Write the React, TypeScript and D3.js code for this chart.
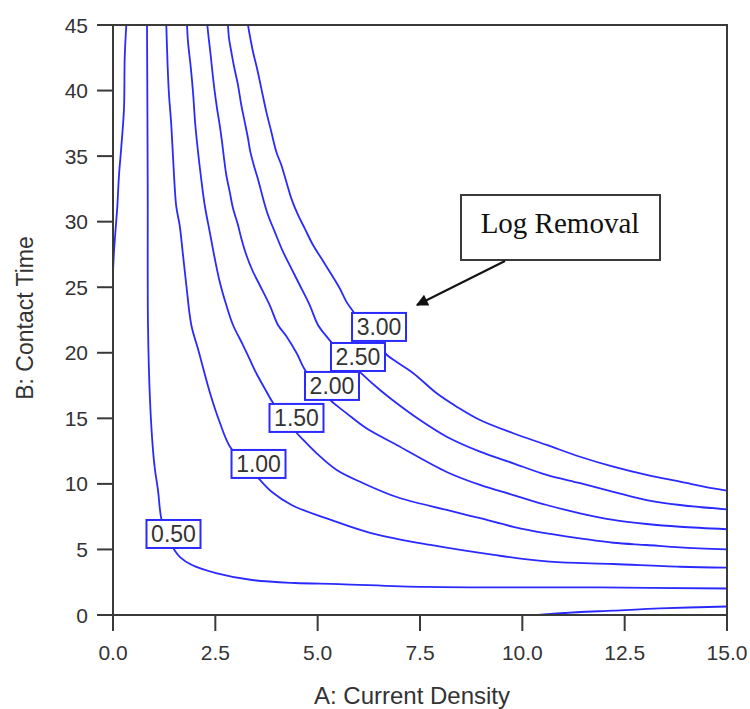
import React from "react";
import * as d3 from "d3";

// Axis ticks
const xTicks = [0, 2.5, 5, 7.5, 10, 12.5, 15];
const yTicks = [0, 5, 10, 15, 20, 25, 30, 35, 40, 45];

// Contour lines, points [A: Current Density, B: Contact Time]
const contourEdge: [number, number][] = [
  [0.325, 45], [0.286, 42.48], [0.269, 38.67], [0.203, 35.7], [0.147, 33.56],
  [0.105, 31.12], [0.066, 29.52], [0.024, 27.69], [0, 26.16],
];
const contour050: [number, number][] = [
  [0.831, 45], [0.848, 32.8], [0.855, 22.12], [0.904, 16.4], [0.977, 12.58],
  [1.026, 11.06], [1.099, 9.53], [1.173, 7.47], [1.295, 6.1], [1.502, 4.96],
  [1.637, 4.42], [1.93, 3.81], [2.516, 3.2], [3.396, 2.67], [4.446, 2.44],
  [5.521, 2.36], [7.647, 2.14], [11.897, 2.1], [15, 2.02],
];
const contour100: [number, number][] = [
  [1.302, 45], [1.361, 40.04], [1.424, 37.37], [1.49, 33.56], [1.546, 31.14],
  [1.629, 29.72], [1.71, 27.46], [1.791, 25.17], [1.913, 22.12], [2.084, 20.21],
  [2.37, 16.93], [2.614, 14.64], [2.858, 12.84], [3.225, 11.59], [3.591, 10.3],
  [3.884, 9.38], [4.363, 8.39], [5.326, 7.25], [6.303, 6.25], [7.757, 5.34],
  [9.308, 4.58], [10.664, 4.07], [12.222, 3.89], [13.852, 3.68], [15, 3.61],
];
const contour150: [number, number][] = [
  [1.808, 45], [1.832, 43.73], [1.898, 41.82], [1.954, 39.91], [2.011, 37.37],
  [2.077, 35.34], [2.143, 33.56], [2.24, 31.27], [2.362, 29.24], [2.485, 27.21],
  [2.607, 25.42], [2.768, 23.64], [2.932, 22.12], [3.176, 20.59], [3.347, 19.45],
  [3.511, 18.38], [3.755, 17.01], [3.916, 16.15], [4.202, 15.03], [4.463, 13.98],
  [4.649, 13.35], [4.976, 12.33], [5.465, 11.06], [6.115, 10.05], [6.931, 9.0],
  [8.152, 8.01], [8.966, 7.38], [9.779, 6.73], [10.595, 6.23], [11.409, 5.85],
  [12.222, 5.51], [13.038, 5.34], [13.852, 5.16], [15, 5.01],
];
const contour200: [number, number][] = [
  [2.304, 45], [2.338, 43.99], [2.377, 42.96], [2.419, 41.7], [2.485, 39.91],
  [2.541, 38.65], [2.607, 37.37], [2.663, 36.1], [2.712, 34.83], [2.768, 33.56],
  [2.851, 32.29], [2.932, 31.02], [3.054, 29.75], [3.134, 28.73], [3.257, 27.46],
  [3.42, 26.18], [3.584, 25.17], [3.828, 23.64], [4.031, 22.12], [4.244, 21.23],
  [4.488, 19.96], [4.691, 18.69], [5.008, 17.47], [5.301, 16.4], [5.709, 15.38],
  [6.181, 14.26], [6.931, 12.97], [8.152, 10.91], [8.966, 9.92], [9.779, 9.15],
  [10.595, 8.39], [11.409, 7.76], [12.222, 7.25], [13.038, 6.94], [13.852, 6.73],
  [15, 6.54],
];
const contour250: [number, number][] = [
  [2.809, 45], [2.834, 43.99], [2.89, 42.96], [2.949, 41.95], [3.054, 40.42],
  [3.134, 38.9], [3.217, 37.63], [3.298, 36.36], [3.354, 35.34], [3.462, 34.07],
  [3.559, 33.05], [3.665, 31.78], [3.787, 30.51], [3.95, 29.24], [4.153, 27.71],
  [4.356, 26.44], [4.561, 25.17], [4.805, 23.64], [5.008, 22.12], [5.221, 21.23],
  [5.343, 20.77], [5.668, 19.68], [6.034, 18.53], [6.523, 17.16], [6.931, 16.15],
  [7.5, 14.87], [8.152, 13.6], [8.966, 12.46], [9.779, 11.57], [10.595, 10.68],
  [11.409, 10.05], [12.222, 9.4], [13.038, 8.77], [13.852, 8.39], [15, 8.06],
];
const contour300: [number, number][] = [
  [3.298, 45], [3.34, 44.24], [3.42, 42.96], [3.518, 41.7], [3.623, 40.17],
  [3.745, 38.39], [3.867, 36.86], [3.989, 35.34], [4.112, 34.32], [4.234, 33.05],
  [4.356, 31.78], [4.52, 30.51], [4.683, 29.49], [4.886, 28.22], [5.089, 27.21],
  [5.294, 26.18], [5.538, 24.92], [5.7, 23.9], [5.871, 23.13], [6.156, 21.89],
  [6.474, 20.75], [6.694, 19.83], [6.931, 19.3], [7.329, 18.46], [7.908, 16.91],
  [8.397, 15.89], [8.966, 14.87], [9.779, 13.86], [10.595, 12.97], [11.409, 12.07],
  [12.222, 11.31], [13.038, 10.68], [13.852, 10.17], [14.666, 9.66], [15, 9.48],
];
const contourBottom: [number, number][] = [
  [10.383, 0], [11.328, 0.21], [12.222, 0.33], [13.36, 0.5], [15, 0.65],
];

// Contour labels
const labelText = ["0.50", "1.00", "1.50", "2.00", "2.50", "3.00"];
const labelA = [1.478, 3.555, 4.483, 5.35, 5.985, 6.499];
const labelB = [6.18, 11.52, 15.03, 17.47, 19.68, 21.97];

export default function App() {
  const W = 750, H = 709;
  const x = d3.scaleLinear().domain([0, 15]).range([113, 727]);
  const y = d3.scaleLinear().domain([0, 45]).range([615, 25]);
  const lineX = d3.line<[number, number]>().x((d) => x(d[0])).y((d) => y(d[1])).curve(d3.curveCatmullRom);
  const contours = [contourEdge, contour050, contour100, contour150, contour200, contour250, contour300, contourBottom];
  const blue = "#2a2aff";
  const axisColor = "#3a3a3a";
  const textColor = "#333";
  const sans = "'Liberation Sans', Arial, sans-serif";
  const [x0, x1] = x.range();
  const [yb, yt] = y.range();

  return (
    <svg width={W} height={H} style={{ position: "absolute", left: 0, top: 0, background: "#fff" }}>
      <defs>
        <clipPath id="plotclip">
          <rect x={x0} y={yt} width={x1 - x0} height={yb - yt} />
        </clipPath>
        <marker id="arrowhead" viewBox="0 0 10 10" refX="9" refY="5" markerWidth="16" markerHeight="12" markerUnits="userSpaceOnUse" orient="auto">
          <path d="M0,0 L10,5 L0,10 z" fill="#111" />
        </marker>
      </defs>
      <rect x={0} y={0} width={W} height={H} fill="#fff" />

      {/* contour lines */}
      <g clipPath="url(#plotclip)">
        {contours.map((c, i) => (
          <path key={i} d={lineX(c) || ""} fill="none" stroke={blue} strokeWidth={1.8} />
        ))}
      </g>

      {/* frame */}
      <rect x={x0} y={yt} width={x1 - x0} height={yb - yt} fill="none" stroke={axisColor} strokeWidth={2} />

      {/* y axis ticks */}
      {yTicks.map((t) => (
        <g key={"y" + t}>
          <line x1={x0 - 16} x2={x0} y1={y(t)} y2={y(t)} stroke={axisColor} strokeWidth={2} />
          <text x={x0 - 25} y={y(t)} dy="0.36em" textAnchor="end" fontFamily={sans} fontSize={21} fill={textColor}>
            {t}
          </text>
        </g>
      ))}
      {/* x axis ticks */}
      {xTicks.map((t) => (
        <g key={"x" + t}>
          <line x1={x(t)} x2={x(t)} y1={yb} y2={yb + 16} stroke={axisColor} strokeWidth={2} />
          <text x={x(t)} y={yb + 45} textAnchor="middle" fontFamily={sans} fontSize={21} fill={textColor}>
            {d3.format(".1f")(t)}
          </text>
        </g>
      ))}

      {/* axis titles */}
      <text x={412} y={704} textAnchor="middle" fontFamily={sans} fontSize={24} fill={textColor}>
        A: Current Density
      </text>
      <text transform={`translate(33,318) rotate(-90)`} textAnchor="middle" fontFamily={sans} fontSize={23} fill={textColor}>
        B: Contact Time
      </text>

      {/* contour labels */}
      {labelText.map((t, i) => {
        const cx = x(labelA[i]);
        const cy = y(labelB[i]);
        return (
          <g key={"l" + t}>
            <rect x={cx - 27} y={cy - 14} width={54} height={28} fill="#fff" stroke={blue} strokeWidth={2} />
            <text x={cx} y={cy + 8.5} textAnchor="middle" fontFamily={sans} fontSize={23} fill={textColor}>
              {t}
            </text>
          </g>
        );
      })}

      {/* annotation */}
      <rect x={461} y={195} width={199} height={65} fill="#fff" stroke={axisColor} strokeWidth={2} />
      <text x={560} y={233} textAnchor="middle" fontFamily="'Liberation Serif', 'Times New Roman', serif" fontSize={29} fill="#111">
        Log Removal
      </text>
      <line x1={505} y1={261} x2={417} y2={305} stroke="#111" strokeWidth={2} markerEnd="url(#arrowhead)" />
    </svg>
  );
}
